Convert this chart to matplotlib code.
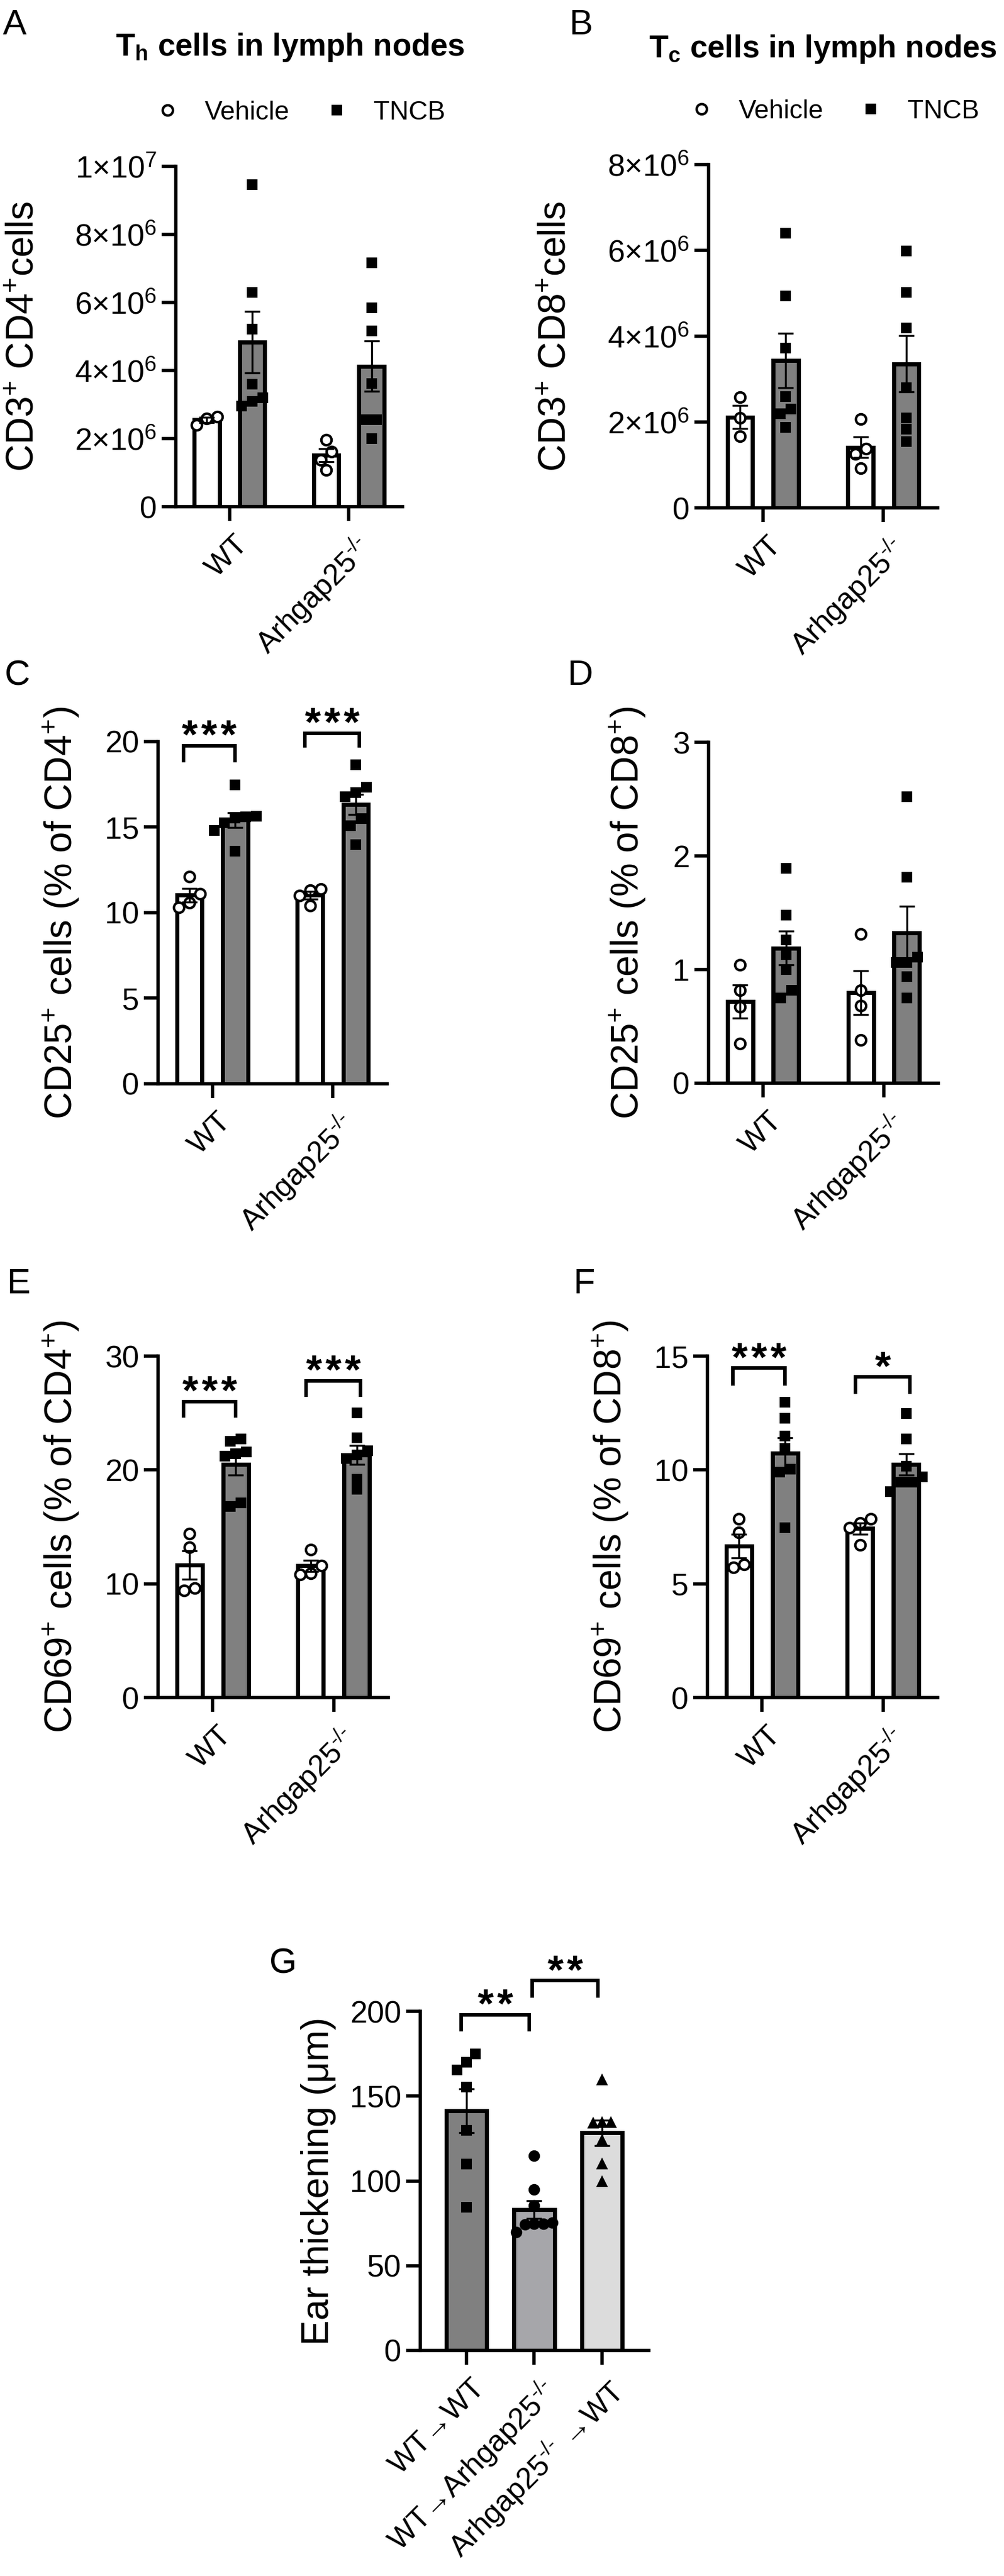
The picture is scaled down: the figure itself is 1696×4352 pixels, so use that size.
import numpy as np
import matplotlib
matplotlib.use('Agg')
import matplotlib.pyplot as plt
import matplotlib.transforms as mtransforms
from matplotlib.lines import Line2D
from matplotlib.ticker import FuncFormatter

plt.rcParams['font.family'] = ['Liberation Sans', 'DejaVu Sans']
plt.rcParams['mathtext.fontset'] = 'custom'
plt.rcParams['mathtext.rm'] = 'Liberation Sans'
plt.rcParams['mathtext.it'] = 'Liberation Sans:italic'
plt.rcParams['mathtext.bf'] = 'Liberation Sans:bold'

# %% data
groups = ['WT', r'Arhgap25$^{\text{-/-}}$']
treatments = ['Vehicle', 'TNCB']

# A - CD3+ CD4+ cells
th_vehicle_wt = [2.40e6, 2.60e6, 2.65e6]
th_vehicle_ko = [1.97e6, 1.62e6, 1.38e6, 1.07e6]
th_tncb_wt = [9.46e6, 6.29e6, 5.22e6, 3.60e6, 3.20e6, 2.95e6, 3.10e6]
th_tncb_ko = [7.17e6, 5.84e6, 5.16e6, 3.62e6, 2.55e6, 2.55e6, 2.00e6]

# B - CD3+ CD8+ cells
tc_vehicle_wt = [2.58e6, 2.10e6, 1.67e6]
tc_vehicle_ko = [2.07e6, 1.38e6, 1.26e6, 0.92e6]
tc_tncb_wt = [6.40e6, 4.94e6, 3.73e6, 2.60e6, 2.30e6, 2.20e6, 1.88e6]
tc_tncb_ko = [5.99e6, 5.02e6, 4.20e6, 2.80e6, 2.09e6, 1.84e6, 1.55e6]

# C - CD25+ (% of CD4+)
cd25_cd4_vehicle_wt = [12.1, 11.1, 10.6, 10.3]
cd25_cd4_vehicle_ko = [11.4, 11.3, 11.0, 10.4]
cd25_cd4_tncb_wt = [17.47, 15.65, 15.6, 15.55, 15.26, 14.8, 13.6]
cd25_cd4_tncb_ko = [18.66, 17.34, 17.02, 16.78, 15.5, 15.09, 13.98]

# D - CD25+ (% of CD8+)
cd25_cd8_vehicle_wt = [1.04, 0.82, 0.67, 0.35]
cd25_cd8_vehicle_ko = [1.31, 0.82, 0.68, 0.38]
cd25_cd8_tncb_wt = [1.89, 1.48, 1.26, 1.13, 1.00, 0.82, 0.75]
cd25_cd8_tncb_ko = [2.52, 1.81, 1.11, 1.06, 1.06, 0.94, 0.75]

# E - CD69+ (% of CD4+)
cd69_cd4_vehicle_wt = [14.4, 13.2, 9.4, 9.6]
cd69_cd4_vehicle_ko = [13.0, 11.6, 10.9, 10.8]
cd69_cd4_tncb_wt = [22.7, 22.5, 21.6, 21.2, 21.4, 17.1, 16.8]
cd69_cd4_tncb_ko = [25.0, 22.8, 21.7, 21.3, 21.0, 19.2, 18.3]

# F - CD69+ (% of CD8+)
cd69_cd8_vehicle_wt = [7.84, 7.25, 5.72, 5.85]
cd69_cd8_vehicle_ko = [7.84, 7.68, 7.45, 6.72]
cd69_cd8_tncb_wt = [12.98, 12.28, 11.48, 10.95, 10.03, 9.90, 7.47]
cd69_cd8_tncb_ko = [12.48, 11.35, 10.16, 9.7, 9.45, 9.45, 9.05]

# G - ear thickening
ear_labels = ['WT→WT', r'WT→Arhgap25$^{\text{-/-}}$', r'Arhgap25$^{\text{-/-}}$ →WT']
ear_wt_wt = [175, 165.5, 170, 155.3, 129.9, 109.8, 84.6]
ear_wt_ko = [114.8, 94.8, 85.6, 75.5, 74.7, 74.7, 74.5, 69.7]
ear_ko_wt = [160, 134.7, 134.7, 134.5, 124.2, 110.2, 99.8]

# %% layout helpers
W, H = 1696, 4352
DPI = 100
fig = plt.figure(figsize=(W / DPI, H / DPI), dpi=DPI)


def rect(left, top, right, bottom):
    return [left / W, 1 - bottom / H, (right - left) / W, (bottom - top) / H]


def spread(vals, thresh, step):
    # simple scatter-dot layout: points that overlap are placed side by side
    vals = np.asarray(vals, dtype=float)
    order = np.argsort(vals)
    offs = np.zeros(len(vals))
    clusters, cur = [], [order[0]]
    for i in order[1:]:
        if vals[i] - vals[cur[-1]] < thresh:
            cur.append(i)
        else:
            clusters.append(cur)
            cur = [i]
    clusters.append(cur)
    for c in clusters:
        for k, i in enumerate(c):
            offs[i] = (k - (len(c) - 1) / 2) * step
    return offs


def draw_bar(ax, x, vals, face, marker, filled, width, step, thresh, ms):
    vals = np.asarray(vals, dtype=float)
    mean = vals.mean()
    sem = vals.std(ddof=1) / np.sqrt(len(vals))
    ax.bar(x, mean, width=width, color=face, edgecolor='black', linewidth=5, zorder=2)
    if filled:
        ax.plot(x + spread(vals, thresh, step), vals, ls='none', marker=marker, ms=ms,
                mfc='black', mec='black', mew=0, zorder=3, clip_on=False)
    else:
        ax.plot(x + spread(vals, thresh, step), vals, ls='none', marker=marker, ms=ms,
                mfc='white', mec='black', mew=3, zorder=3, clip_on=False)
    ax.errorbar(x, mean, yerr=sem, fmt='none', ecolor='black', elinewidth=2.4,
                capsize=9.5, capthick=2.4, zorder=4)


def bracket(ax, x1, x2, top, leg, text):
    ax.plot([x1, x1, x2, x2], [leg, top, top, leg], color='black', lw=4.3,
            solid_joinstyle='miter', solid_capstyle='butt', clip_on=False, zorder=5)
    ax.annotate(text, xy=((x1 + x2) / 2, top), xytext=(0, -3), textcoords='offset points',
                ha='center', va='baseline', fontsize=50, fontweight='bold',
                annotation_clip=False)


def style_axis(ax, ylim, yticks):
    for s in ['top', 'right']:
        ax.spines[s].set_visible(False)
    for s in ['left', 'bottom']:
        ax.spines[s].set_linewidth(4)
    ax.set_ylim(*ylim)
    ax.set_yticks(yticks)
    ax.tick_params(direction='out', length=17, width=4, labelsize=37.5)
    ax.tick_params(axis='y', pad=6)
    ax.tick_params(axis='x', pad=12)


def xlabels(ax, labels):
    ax.set_xticklabels(labels, rotation=45, ha='right', va='top', rotation_mode='anchor',
                       fontsize=36)
    shift = mtransforms.ScaledTranslation(8 / DPI, 0, fig.dpi_scale_trans)
    for t in ax.get_xticklabels():
        t.set_transform(t.get_transform() + shift)


def ylabel(box_px, text, base_x):
    l, t, r, b = box_px
    fig.text(base_x / W, 1 - (t + b) / 2 / H, text, rotation=90, rotation_mode='anchor',
             ha='center', va='baseline', fontsize=46)


def sci(v, pos):
    if v == 0:
        return '0'
    e = int(np.floor(np.log10(v) + 1e-9))
    return r'$%d{\times}10^{%d}$' % (round(v / 10 ** e), e)


def panel(box_px, veh_wt, veh_ko, tncb_wt, tncb_ko, ylim, yticks, label, label_x,
          sci_fmt=False, brackets=()):
    ax = fig.add_axes(rect(*box_px))
    thresh = 0.028 * ylim[1]
    for g, (veh, tn) in enumerate([(veh_wt, tncb_wt), (veh_ko, tncb_ko)]):
        draw_bar(ax, g - 0.19, veh, 'white', 'o', False, 0.21, 0.088, thresh, 12.5)
        draw_bar(ax, g + 0.19, tn, '#808080', 's', True, 0.21, 0.088, thresh, 13)
    style_axis(ax, ylim, yticks)
    if sci_fmt:
        ax.yaxis.set_major_formatter(FuncFormatter(sci))
    ax.set_xlim(-0.45, 1.45)
    ax.set_xticks([0, 1])
    xlabels(ax, groups)
    for x1, x2, top, leg, txt in brackets:
        bracket(ax, x1, x2, top, leg, txt)
    ylabel(box_px, label, label_x)
    return ax


# %% panels A-F
box_a = (297, 281, 680, 856)
box_b = (1197, 278, 1584, 858)
box_c = (267, 1253, 654, 1831)
box_d = (1197, 1254, 1585, 1830)
box_e = (267, 2291, 656, 2868)
box_f = (1195, 2291, 1584, 2868)

panel(box_a, th_vehicle_wt, th_vehicle_ko, th_tncb_wt, th_tncb_ko, (0, 1e7),
      [0, 2e6, 4e6, 6e6, 8e6, 1e7], r'CD3$^{+}$ CD4$^{+}$cells', 57, sci_fmt=True)
panel(box_b, tc_vehicle_wt, tc_vehicle_ko, tc_tncb_wt, tc_tncb_ko, (0, 8e6),
      [0, 2e6, 4e6, 6e6, 8e6], r'CD3$^{+}$ CD8$^{+}$cells', 955, sci_fmt=True)
panel(box_c, cd25_cd4_vehicle_wt, cd25_cd4_vehicle_ko, cd25_cd4_tncb_wt, cd25_cd4_tncb_ko,
      (0, 20), [0, 5, 10, 15, 20], r'CD25$^{+}$ cells (% of CD4$^{+}$)', 122,
      brackets=[(-0.24, 0.19, 19.76, 18.8, '*\u200a*\u200a*'),
                (0.77, 1.22, 20.5, 19.65, '*\u200a*\u200a*')])
panel(box_d, cd25_cd8_vehicle_wt, cd25_cd8_vehicle_ko, cd25_cd8_tncb_wt, cd25_cd8_tncb_ko,
      (0, 3), [0, 1, 2, 3], r'CD25$^{+}$ cells (% of CD8$^{+}$)', 1079)
panel(box_e, cd69_cd4_vehicle_wt, cd69_cd4_vehicle_ko, cd69_cd4_tncb_wt, cd69_cd4_tncb_ko,
      (0, 30), [0, 10, 20, 30], r'CD69$^{+}$ cells (% of CD4$^{+}$)', 122,
      brackets=[(-0.24, 0.19, 25.98, 24.6, '*\u200a*\u200a*'),
                (0.77, 1.22, 27.8, 26.4, '*\u200a*\u200a*')])
panel(box_f, cd69_cd8_vehicle_wt, cd69_cd8_vehicle_ko, cd69_cd8_tncb_wt, cd69_cd8_tncb_ko,
      (0, 15), [0, 5, 10, 15], r'CD69$^{+}$ cells (% of CD8$^{+}$)', 1050,
      brackets=[(-0.24, 0.19, 14.47, 13.7, '*\u200a*\u200a*'),
                (0.77, 1.22, 14.09, 13.34, '*')])

# titles and legends for A/B
fig.text(490 / W, 1 - 94 / H, r'T$_\mathbf{h}$ cells in lymph nodes', fontsize=38,
         fontweight='bold', ha='center', va='baseline')
fig.text(1390 / W, 1 - 97 / H, r'T$_\mathbf{c}$ cells in lymph nodes', fontsize=38,
         fontweight='bold', ha='center', va='baseline')

handles = [Line2D([], [], ls='none', marker='o', ms=12.5, mfc='white', mec='black', mew=3),
           Line2D([], [], ls='none', marker='s', ms=13, mfc='black', mec='black', mew=0)]
for cx, cy in [(511, 190), (1413, 188)]:
    fig.legend(handles, treatments, loc='center', bbox_to_anchor=(cx / W, 1 - cy / H),
               ncol=2, frameon=False, fontsize=32, handlelength=0.6, handletextpad=1.1,
               columnspacing=1.5, borderpad=0, borderaxespad=0)

# %% panel G
box_g = (710, 3398, 1096, 3971)
ax = fig.add_axes(rect(*box_g))
for i, (vals, face, marker, ms) in enumerate([(ear_wt_wt, '#808080', 's', 13.5),
                                              (ear_wt_ko, '#a6a6aa', 'o', 14),
                                              (ear_ko_wt, '#dcdcdc', '^', 14.5)]):
    draw_bar(ax, i, vals, face, marker, True, 0.6, 0.135, 6.2, ms)
style_axis(ax, (0, 200), [0, 50, 100, 150, 200])
ax.set_xlim(-0.68, 2.69)
ax.set_xticks([0, 1, 2])
xlabels(ax, ear_labels)
bracket(ax, -0.08, 0.93, 198, 188, '*\u200a*')
bracket(ax, 0.97, 1.94, 218, 208, '*\u200a*')
ylabel(box_g, 'Ear thickening (μm)', 555)

# panel letters
for letter, x, y in [('A', 5, 58), ('B', 961, 58), ('C', 8, 1157), ('D', 958, 1157),
                     ('E', 11, 2185), ('F', 968, 2185), ('G', 455, 3334)]:
    fig.text(x / W, 1 - y / H, letter, fontsize=43, ha='left', va='baseline')

fig.savefig('out.png', dpi=DPI)
